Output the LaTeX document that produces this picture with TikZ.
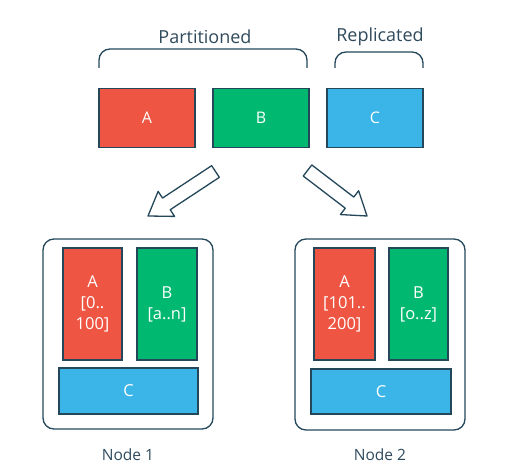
\documentclass[tikz,border=0pt]{standalone}
\usepackage{fontspec}
\setmainfont{Open Sans}
\usetikzlibrary{calc}
\definecolor{ink}{HTML}{24475A}
\definecolor{txt}{HTML}{2F4A5C}
\definecolor{cred}{HTML}{EE5542}
\definecolor{cgreen}{HTML}{00B86F}
\definecolor{cblue}{HTML}{3BB5E8}
\begin{document}
\begin{tikzpicture}[x=1pt,y=-1pt,
  part/.style={draw=ink,line width=1.3pt,text=white,align=center,inner sep=0pt,font=\fontsize{16.5}{21}\selectfont},
  topbox/.style={part,minimum width=96pt,minimum height=59pt,font=\fontsize{16}{18}\selectfont},
  outer/.style={draw=ink,line width=1.3pt,rounded corners=11pt,minimum width=170pt,minimum height=190pt,inner sep=0pt},
  lbl/.style={text=txt,inner sep=0pt},
  brace/.style={draw=ink,line width=1.3pt,rounded corners=11pt},
  blockarrow/.style={draw=ink,line width=1.3pt,fill=white,line join=round}]
\useasboundingbox (0,0) rectangle (511,473);
% braces and labels
\draw[brace] (99,68) -- (99,49) -- (307,49) -- (307,68);
\draw[brace] (335,68) -- (335,52) -- (423,52) -- (423,68);
\node[lbl,font=\fontsize{18}{20}\selectfont] (tpart) at (205,37) {Partitioned};
\node[lbl,font=\fontsize{18}{20}\selectfont] (trep) at (380,37) {Replicated};
% top boxes
\node[topbox,fill=cred] (A) at (147,118) {A};
\node[topbox,fill=cgreen] (B) at (261,118) {B};
\node[topbox,fill=cblue] (C) at (375,118) {C};
% block arrows
\coordinate (lT) at (215.5,171.5);
\coordinate (lP) at (148,216);
\coordinate (lH) at ($(lP)!22pt!(lT)$);
\draw[blockarrow] ($(lT)!7pt!90:(lP)$) -- ($(lH)!7pt!90:(lP)$) -- ($(lH)!15pt!90:(lP)$) -- (lP)
  -- ($(lH)!15pt!-90:(lP)$) -- ($(lH)!7pt!-90:(lP)$) -- ($(lT)!7pt!-90:(lP)$) -- cycle;
\coordinate (rT) at (307.5,170.5);
\coordinate (rP) at (367,216);
\coordinate (rH) at ($(rP)!22pt!(rT)$);
\draw[blockarrow] ($(rT)!7pt!90:(rP)$) -- ($(rH)!7pt!90:(rP)$) -- ($(rH)!15pt!90:(rP)$) -- (rP)
  -- ($(rH)!15pt!-90:(rP)$) -- ($(rH)!7pt!-90:(rP)$) -- ($(rT)!7pt!-90:(rP)$) -- cycle;
% node 1
\node[outer] (N1) at (128,334) {};
\node[part,fill=cred,minimum width=59pt,minimum height=112pt] (A1) at (92.5,304) {A\\{}[0..\\100]};
\node[part,fill=cgreen,minimum width=60pt,minimum height=112pt] (B1) at (167,304) {B\\{}[a..n]};
\node[part,fill=cblue,minimum width=139pt,minimum height=46pt] (C1) at (128.5,391) {C};
\node[lbl,font=\fontsize{15.5}{17}\selectfont] (L1) at (128,455) {Node 1};
% node 2
\node[outer,minimum height=191pt] (N2) at (380,334.5) {};
\node[part,fill=cred,minimum width=61pt,minimum height=112pt] (A2) at (344.5,304) {A\\{}[101..\\200]};
\node[part,fill=cgreen,minimum width=59pt,minimum height=112pt] (B2) at (418.5,304) {B\\{}[o..z]};
\node[part,fill=cblue,minimum width=140pt,minimum height=45pt] (C2) at (381,391.5) {C};
\node[lbl,font=\fontsize{15.5}{17}\selectfont] (L2) at (380,455) {Node 2};
\end{tikzpicture}
\end{document}
